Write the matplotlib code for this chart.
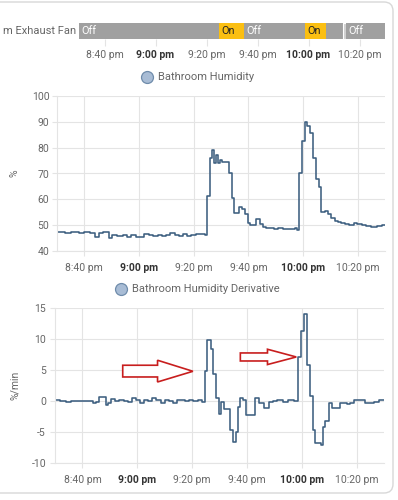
import matplotlib
matplotlib.use("Agg")
import matplotlib.pyplot as plt
from matplotlib.patches import Polygon, FancyBboxPatch, Rectangle
from matplotlib.transforms import IdentityTransform
import matplotlib.lines as mlines

plt.rcParams['font.family'] = ['Roboto', 'DejaVu Sans']
plt.rcParams['axes.unicode_minus'] = False

# ---------------- data (minutes after 8:30 pm) ----------------
tick_minutes = [10, 30, 50, 70, 90, 110]
tick_labels = ["8:40 pm", "9:00 pm", "9:20 pm", "9:40 pm", "10:00 pm", "10:20 pm"]
bold_ticks = ["9:00 pm", "10:00 pm"]

fan_label = "m Exhaust Fan"
fan_starts = [0, 54.9, 64.7, 88.6, 96.9, 103.4, 104.9]
fan_ends = [54.9, 64.7, 88.6, 96.9, 103.4, 104.9, 120]
fan_states = ["Off", "On", "Off", "On", "Off", "unavailable", "Off"]

hum_minutes = [0, 3, 5, 8, 10, 12, 14, 15.5, 17, 19, 20, 22, 24, 25.5, 27, 29, 30.5,
               32, 33.5, 35, 37, 38.5, 40, 41.5, 43, 44.5, 46, 47.5, 49, 51, 52.5, 54,
               55, 55.8, 56.8, 57.5, 58.2, 58.9, 59.7, 60.4, 63.0, 64.0, 64.9, 66.5,
               67.7, 68.9, 69.8, 70.7, 72.9, 74.4, 75.4, 76.6, 78, 79.5, 81, 82.5, 84,
               85.5, 87, 87.8, 88.5, 89.5, 90.6, 91.6, 92.5, 93.6, 94.6, 95.8, 96.7,
               98.0, 99.2, 100.4, 101.6, 102.8, 104.0, 105.5, 107.0, 108.5, 109.8,
               111.5, 113.2, 115.0, 117.0, 118.8, 120]
hum_values = [47.2, 47.0, 47.3, 47.0, 47.2, 46.9, 45.6, 47.0, 47.3, 45.0, 46.0, 45.7,
              46.0, 45.6, 46.2, 45.6, 45.4, 46.6, 46.3, 45.8, 46.0, 45.7, 46.2, 46.8,
              46.2, 45.9, 46.5, 45.8, 46.3, 46.6, 46.4, 46.2,
              61.3, 76.0, 79.0, 74.2, 77.0, 74.2, 75.2, 74.3, 70.0, 60.6, 54.8, 57.1,
              56.1, 54.2, 51.0, 50.0, 52.2, 50.3, 49.3, 48.8, 49.0, 48.6, 48.9, 48.5,
              48.7, 48.6, 48.9, 48.3, 70.3, 82.5, 90.0, 88.3, 85.7, 76.0, 67.7, 64.8,
              55.0, 55.5, 54.2, 52.9, 51.6, 51.2, 50.7, 50.3, 49.9, 51.0, 50.4, 50.2,
              49.5, 49.4, 49.8, 50.0, 50.0]

deriv_minutes = [0, 2, 4, 6, 8, 10, 12, 14, 15, 16, 18.5, 19.5, 20.5, 22, 23.5, 25,
                 26.5, 28, 29.5, 31, 32.5, 34, 35.5, 37, 38.5, 40, 41.5, 43, 44.5, 46,
                 47.5, 49, 50.5, 52, 53.5, 54.8, 55.6, 56.9, 57.6, 58.8, 59.8, 60.6,
                 61.8, 63.7, 64.8, 65.9, 66.7, 67.3, 68.5, 69.8, 73.0, 74.5, 76.1, 77.9,
                 79.5, 81, 83, 85, 87, 88.6, 89.8, 90.8, 91.9, 93.1, 94.0, 94.9, 97.0,
                 97.7, 98.6, 99.8, 101.0, 104.0, 106.5, 107.5, 109, 111, 113.2, 116.2,
                 118, 120]
deriv_values = [0.1, 0.0, -0.1, 0.0, 0.05, 0.0, 0.0, -0.4, -0.2, 0.6, -0.7, -0.3, 0.3,
                0.0, 0.2, 0.0, -0.2, 0.4, 0.1, -0.3, 0.1, 0.0, 0.4, 0.1, -0.3, 0.2,
                0.0, -0.4, 0.1, 0.2, 0.0, 0.2, 0.0, 0.1, -0.1, 4.9, 9.85, 8.4, 4.3,
                0.4, -2.05, -0.15, -1.25, -4.65, -6.65, -5.1, -1.0, 0.55, 0.2, -2.2,
                0.5, -0.4, -1.2, -0.2, 0.0, 0.1, -0.1, 0.1, 0.0, 7.1, 11.4, 14.0, 5.9,
                0.75, -4.75, -6.8, -7.2, -4.2, -3.2, -0.4, -1.1, -0.4, -0.5, -0.3, 0.2,
                0.2, -0.3, -0.2, 0.1, 0.1]

# ---------------- styling ----------------
LINE = "#3d5f80"
GRID = "#e4e4e4"
TXT = "#666666"
BOLD = "#333333"
W, H = 398, 500


def fx(x):
    return x / W


def fy(y):
    return 1 - y / H


fig = plt.figure(figsize=(W / 100, H / 100), dpi=100)
fig.patch.set_facecolor("white")

card = FancyBboxPatch((-10, 7), 403, 491, boxstyle="round,pad=0,rounding_size=9",
                      transform=IdentityTransform(), facecolor="white",
                      edgecolor="#d8d8d8", linewidth=1.0, zorder=0)
fig.add_artist(card)


def style_xticks(ax, pad):
    ax.set_xticks(tick_minutes)
    ax.set_xticklabels(tick_labels)
    for lab in ax.get_xticklabels():
        if lab.get_text() in bold_ticks:
            lab.set_fontweight("bold")
            lab.set_color(BOLD)
        else:
            lab.set_color(TXT)
        lab.set_fontsize(7.5)
    ax.tick_params(axis="x", length=3.5, color=GRID, pad=pad)


# ---------------- timeline ----------------
ax_t = fig.add_axes([fx(79), fy(39), (385 - 79) / W, 15.7 / H])
ax_t.set_xlim(0, 120)
ax_t.set_ylim(0, 1)
state_colors = {"Off": "#a0a0a0", "On": "#fbbf12", "unavailable": "#cfcfcf"}
for s, e, st in zip(fan_starts, fan_ends, fan_states):
    if st == "unavailable":
        ax_t.add_patch(Rectangle((s, 0), e - s, 1, facecolor=state_colors[st],
                                 edgecolor="white", linewidth=0.8))
    else:
        ax_t.add_patch(Rectangle((s, 0), e - s, 1, facecolor=state_colors[st],
                                 edgecolor="none"))
        if e - s > 8:
            ax_t.text(s + 0.9, 0.5, st, ha="left", va="center", fontsize=7.8,
                      color="white" if st == "Off" else "#222222")
for sp in ax_t.spines.values():
    sp.set_visible(False)
ax_t.set_yticks([])
style_xticks(ax_t, pad=3)
ax_t.tick_params(axis="x", length=5)
ax_t.text(-1.2, 0.5, fan_label, ha="right", va="center",
          fontsize=8, color=TXT, clip_on=False)

# ---------------- humidity ----------------
ax_h = fig.add_axes([fx(57), fy(251), 328 / W, 155 / H])
ax_h.step(hum_minutes, hum_values, where="post", color=LINE, linewidth=1.15)
ax_h.set_xlim(0, 120)
ax_h.set_ylim(40, 100)
ax_h.set_yticks(range(40, 101, 10))
ax_h.grid(True, color=GRID, linewidth=0.8)
ax_h.set_axisbelow(True)
for k in ["top", "right"]:
    ax_h.spines[k].set_visible(False)
for k in ["left", "bottom"]:
    ax_h.spines[k].set_color(GRID)
style_xticks(ax_h, pad=5)
ax_h.tick_params(axis="y", length=3.5, color=GRID, labelsize=7.5, labelcolor=TXT, pad=2)
ax_h.set_ylabel("%", fontsize=7.5, color=TXT)
ax_h.yaxis.set_label_coords((19 - 57) / 328, 0.5)

fig.add_artist(mlines.Line2D([fx(146.7)], [fy(76.7)], marker="o", markersize=8.6,
                             markerfacecolor="#a8bcd5", markeredgecolor="#6f8cab",
                             markeredgewidth=0.9, transform=fig.transFigure))
fig.text(fx(158.3), fy(76.7), "Bathroom Humidity", ha="left", va="center",
         fontsize=8, color=TXT)

# ---------------- derivative ----------------
ax_d = fig.add_axes([fx(55), fy(462.7), 329 / W, 154.4 / H])
ax_d.step(deriv_minutes, deriv_values, where="post", color=LINE, linewidth=1.15)
ax_d.set_xlim(0, 120)
ax_d.set_ylim(-10, 15)
ax_d.set_yticks(range(-10, 16, 5))
ax_d.grid(True, color=GRID, linewidth=0.8)
ax_d.set_axisbelow(True)
for k in ["top", "right"]:
    ax_d.spines[k].set_visible(False)
for k in ["left", "bottom"]:
    ax_d.spines[k].set_color(GRID)
style_xticks(ax_d, pad=5)
ax_d.tick_params(axis="y", length=3.5, color=GRID, labelsize=7.5, labelcolor=TXT, pad=3)
ax_d.set_ylabel("%/min", fontsize=7.5, color=TXT)
ax_d.yaxis.set_label_coords((20 - 55) / 329, 0.5)

fig.add_artist(mlines.Line2D([fx(120.7)], [fy(289.3)], marker="o", markersize=8.6,
                             markerfacecolor="#a8bcd5", markeredgecolor="#6f8cab",
                             markeredgewidth=0.9, transform=fig.transFigure))
fig.text(fx(132.3), fy(289.3), "Bathroom Humidity Derivative", ha="left",
         va="center", fontsize=8, color=TXT)

# red annotation arrows
arrow1 = [(24.7, 3.88), (24.7, 5.78), (37.4, 5.78), (37.4, 6.59), (50.3, 4.8),
          (37.4, 3.07), (37.4, 3.88)]
arrow2 = [(67.6, 6.47), (67.6, 7.77), (77.5, 7.77), (77.5, 8.37), (88.0, 7.12),
          (77.5, 5.89), (77.5, 6.47)]
for pts in (arrow1, arrow2):
    ax_d.add_patch(Polygon(pts, closed=True, facecolor="white", edgecolor="#c81e1e",
                           linewidth=1.2, zorder=5))

fig.savefig("out.png", dpi=100)
